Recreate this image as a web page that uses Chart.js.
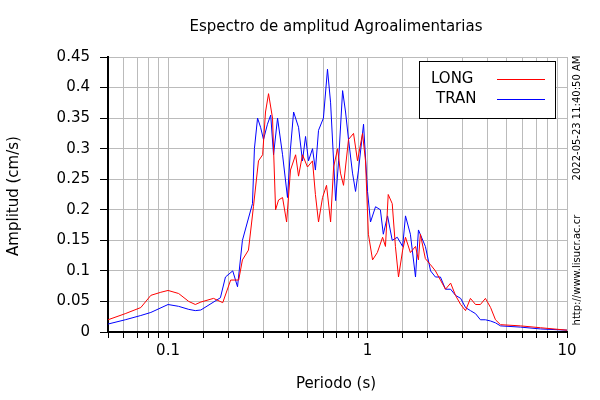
<!DOCTYPE html>
<html>
<head>
    <script src="https://cdn.jsdelivr.net/npm/chart.js"></script>
    <style>
        body { margin: 0; background: #fff; }
        #wrap { width: 600px; height: 400px; }
    </style>
</head>
<body>
    <div id="wrap"><canvas id="espectro"></canvas></div>
    <script>
        // Periodo (s) / amplitud (cm/s)
        const longPeriod = [0.05, 0.061, 0.073, 0.082, 0.092, 0.1, 0.113, 0.127, 0.137, 0.146, 0.169, 0.188, 0.206, 0.226, 0.236, 0.253, 0.268, 0.284, 0.298, 0.308, 0.319, 0.334, 0.346, 0.358, 0.375, 0.393, 0.411, 0.436, 0.451, 0.472, 0.5, 0.53, 0.548, 0.568, 0.595, 0.623, 0.653, 0.676, 0.708, 0.732, 0.758, 0.803, 0.851, 0.891, 0.944, 0.977, 1.01, 1.06, 1.12, 1.19, 1.23, 1.27, 1.33, 1.38, 1.43, 1.5, 1.55, 1.64, 1.74, 1.8, 1.84, 1.95, 2.07, 2.19, 2.32, 2.46, 2.61, 2.76, 2.93, 3.1, 3.28, 3.48, 3.68, 3.9, 4.14, 4.38, 4.64, 5.85, 7.36, 10];
        const longAmp = [0.02, 0.03, 0.04, 0.06, 0.065, 0.068, 0.063, 0.05, 0.045, 0.049, 0.055, 0.048, 0.085, 0.085, 0.118, 0.134, 0.205, 0.28, 0.29, 0.36, 0.39, 0.35, 0.2, 0.216, 0.22, 0.18, 0.265, 0.29, 0.255, 0.29, 0.27, 0.28, 0.225, 0.18, 0.22, 0.24, 0.18, 0.27, 0.3, 0.26, 0.24, 0.315, 0.325, 0.28, 0.325, 0.28, 0.16, 0.118, 0.13, 0.155, 0.14, 0.225, 0.21, 0.14, 0.09, 0.134, 0.155, 0.13, 0.14, 0.118, 0.16, 0.12, 0.11, 0.1, 0.085, 0.07, 0.08, 0.06, 0.045, 0.035, 0.055, 0.045, 0.045, 0.055, 0.04, 0.02, 0.012, 0.01, 0.007, 0.003];
        const tranPeriod = [0.05, 0.061, 0.073, 0.082, 0.1, 0.113, 0.127, 0.137, 0.146, 0.183, 0.194, 0.211, 0.223, 0.236, 0.25, 0.265, 0.271, 0.281, 0.291, 0.301, 0.315, 0.327, 0.338, 0.354, 0.375, 0.397, 0.411, 0.426, 0.451, 0.472, 0.489, 0.506, 0.53, 0.548, 0.568, 0.601, 0.63, 0.653, 0.692, 0.716, 0.75, 0.776, 0.803, 0.841, 0.871, 0.901, 0.955, 1.0, 1.035, 1.097, 1.16, 1.2, 1.26, 1.33, 1.41, 1.5, 1.55, 1.64, 1.74, 1.8, 1.95, 2.07, 2.19, 2.32, 2.46, 2.61, 2.76, 2.93, 3.1, 3.28, 3.48, 3.68, 3.9, 4.14, 4.38, 4.64, 5.85, 7.36, 10];
        const tranAmp = [0.013, 0.02, 0.027, 0.032, 0.045, 0.042, 0.037, 0.035, 0.036, 0.056, 0.09, 0.1, 0.074, 0.15, 0.18, 0.21, 0.3, 0.35, 0.335, 0.315, 0.34, 0.355, 0.29, 0.35, 0.29, 0.22, 0.3, 0.36, 0.335, 0.28, 0.32, 0.28, 0.3, 0.265, 0.33, 0.35, 0.43, 0.375, 0.215, 0.28, 0.395, 0.36, 0.315, 0.26, 0.23, 0.265, 0.34, 0.23, 0.18, 0.205, 0.2, 0.16, 0.19, 0.15, 0.155, 0.14, 0.19, 0.16, 0.09, 0.167, 0.14, 0.1, 0.09, 0.09, 0.07, 0.07, 0.06, 0.055, 0.04, 0.035, 0.03, 0.02, 0.02, 0.018, 0.015, 0.01, 0.008, 0.005, 0.003];
        const xLabels = [0.1, 1, 10];

        const titulo = 'Espectro de amplitud Agroalimentarias';
        const fecha = '2022-05-23 11:40:50 AM';
        const sitio = 'http://www.lisucr.ac.cr';
        const FONT = 'DejaVu Sans';

        const toXY = (xs, ys) => xs.map((x, i) => ({ x: x, y: ys[i] }));

        // textos y leyenda dibujados a mano
        const decor = {
            id: 'decor',
            afterDraw(chart) {
                const ctx = chart.ctx;
                ctx.save();
                ctx.fillStyle = '#000';
                ctx.font = '15px "' + FONT + '"';
                ctx.textAlign = 'center';
                ctx.textBaseline = 'middle';
                ctx.fillText(titulo, 336, 27);
                ctx.fillText('Periodo (s)', 336, 384);
                ctx.save();
                ctx.translate(14, 196);
                ctx.rotate(-Math.PI / 2);
                ctx.fillText('Amplitud (cm/s)', 0, 0);
                ctx.restore();
                ctx.font = '10px "' + FONT + '"';
                ctx.save();
                ctx.translate(577, 118);
                ctx.rotate(-Math.PI / 2);
                ctx.fillText(fecha, 0, 0);
                ctx.restore();
                ctx.save();
                ctx.translate(577, 270);
                ctx.rotate(-Math.PI / 2);
                ctx.fillText(sitio, 0, 0);
                ctx.restore();

                // leyenda
                ctx.fillStyle = '#fff';
                ctx.strokeStyle = '#000';
                ctx.lineWidth = 1;
                ctx.fillRect(419.5, 61.5, 136, 57);
                ctx.strokeRect(419.5, 61.5, 136, 57);
                ctx.font = '15px "' + FONT + '"';
                ctx.textAlign = 'left';
                ctx.fillStyle = '#000';
                ctx.fillText('LONG', 431, 79);
                ctx.fillText('TRAN', 436, 99);
                ctx.strokeStyle = '#ff0000';
                ctx.beginPath(); ctx.moveTo(497, 79.5); ctx.lineTo(545, 79.5); ctx.stroke();
                ctx.strokeStyle = '#0000ff';
                ctx.beginPath(); ctx.moveTo(497, 99.5); ctx.lineTo(545, 99.5); ctx.stroke();
                ctx.restore();
            }
        };

        new Chart(document.getElementById('espectro'), {
            type: 'line',
            data: {
                datasets: [
                    { label: 'LONG', data: toXY(longPeriod, longAmp), borderColor: '#ff0000', borderWidth: 1, pointRadius: 0, tension: 0 },
                    { label: 'TRAN', data: toXY(tranPeriod, tranAmp), borderColor: '#0000ff', borderWidth: 1, pointRadius: 0, tension: 0 }
                ]
            },
            options: {
                responsive: true,
                maintainAspectRatio: false,
                animation: false,
                layout: { padding: { top: 57, right: 33, left: 0, bottom: 0 } },
                plugins: { legend: { display: false }, title: { display: false }, tooltip: { enabled: false } },
                scales: {
                    x: {
                        type: 'logarithmic',
                        min: 0.05,
                        max: 10,
                        afterFit: s => { s.height = 68; },
                        grid: { color: '#bbbbbb', tickLength: 6, tickColor: '#000' },
                        border: { display: true, color: '#000', width: 2 },
                        ticks: {
                            autoSkip: false,
                            maxRotation: 0,
                            padding: 4,
                            color: '#000',
                            font: { family: FONT, size: 15 },
                            callback: v => xLabels.includes(Number(v.toPrecision(3))) ? String(v) : ''
                        }
                    },
                    y: {
                        min: 0,
                        max: 0.45,
                        afterFit: s => { s.width = 108; },
                        grid: { color: '#bbbbbb', tickLength: 8, tickColor: '#000' },
                        border: { display: true, color: '#000', width: 2 },
                        ticks: {
                            stepSize: 0.05,
                            padding: 10,
                            color: '#000',
                            font: { family: FONT, size: 15 },
                            callback: v => Number(v.toFixed(2)).toString()
                        }
                    }
                }
            },
            plugins: [decor]
        });
    </script>
</body>
</html>
